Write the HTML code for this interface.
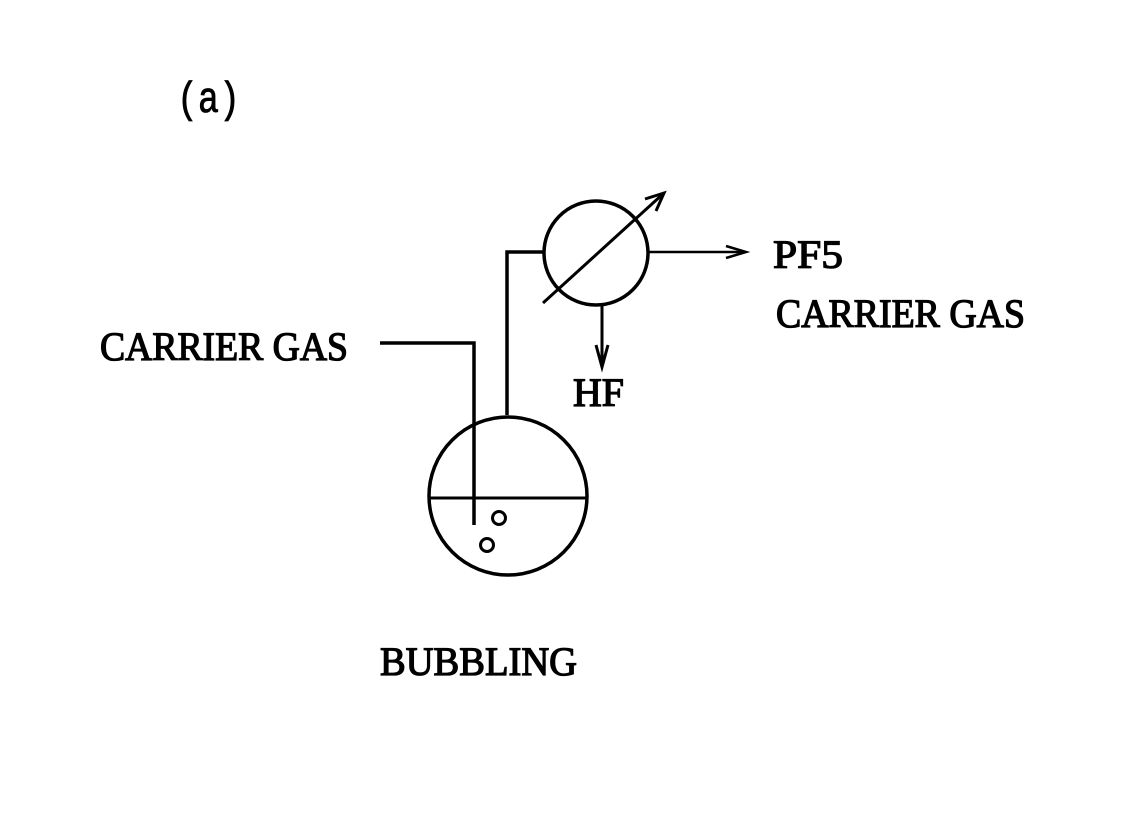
<!DOCTYPE html>
<html><head><meta charset="utf-8"><style>html,body{margin:0;padding:0;background:#fff}</style></head>
<body>
<svg width="1142" height="831" viewBox="0 0 1142 831" xmlns="http://www.w3.org/2000/svg">
<rect width="1142" height="831" fill="#fff"/>
<g fill="none" stroke="#000" stroke-width="3.5">
<circle cx="508" cy="496" r="79"/>
<line x1="430" y1="498" x2="587" y2="498" stroke-width="3"/>
<polyline points="380,343 474,343 474,525"/>
<circle cx="499" cy="518" r="6.5" stroke-width="3"/>
<circle cx="487" cy="545" r="6.5" stroke-width="3"/>
<polyline points="507,415 507,252 544,252"/>
<circle cx="596" cy="253" r="52"/>
<line x1="543" y1="303" x2="664" y2="193" stroke-width="3"/>
<polyline points="645,199 664,193 656,211" stroke-width="3"/>
<line x1="648" y1="252" x2="746" y2="252" stroke-width="2.5"/>
<polyline points="726,246 746,252 726,258" stroke-width="2.5"/>
<line x1="602" y1="305" x2="602" y2="367" stroke-width="3"/>
<polyline points="596,345 602,367 608,345" stroke-width="3"/>
</g>
<g font-family="Liberation Serif, serif" fill="#000" stroke="#000" stroke-width="1.3">
<text x="100" y="360" font-size="40" textLength="248" lengthAdjust="spacingAndGlyphs">CARRIER GAS</text>
<text x="773" y="268" font-size="40" textLength="70" lengthAdjust="spacingAndGlyphs">PF5</text>
<text x="776" y="327" font-size="40" textLength="249" lengthAdjust="spacingAndGlyphs">CARRIER GAS</text>
<text x="573" y="406" font-size="40" textLength="51" lengthAdjust="spacingAndGlyphs">HF</text>
<text x="380" y="675" font-size="40" textLength="197" lengthAdjust="spacingAndGlyphs">BUBBLING</text>
</g>
<text x="177" y="112" font-family="Liberation Mono, monospace" font-size="44" textLength="63" lengthAdjust="spacingAndGlyphs" fill="#000" stroke="#000" stroke-width="0.8">(a)</text>
</svg>
</body></html>
